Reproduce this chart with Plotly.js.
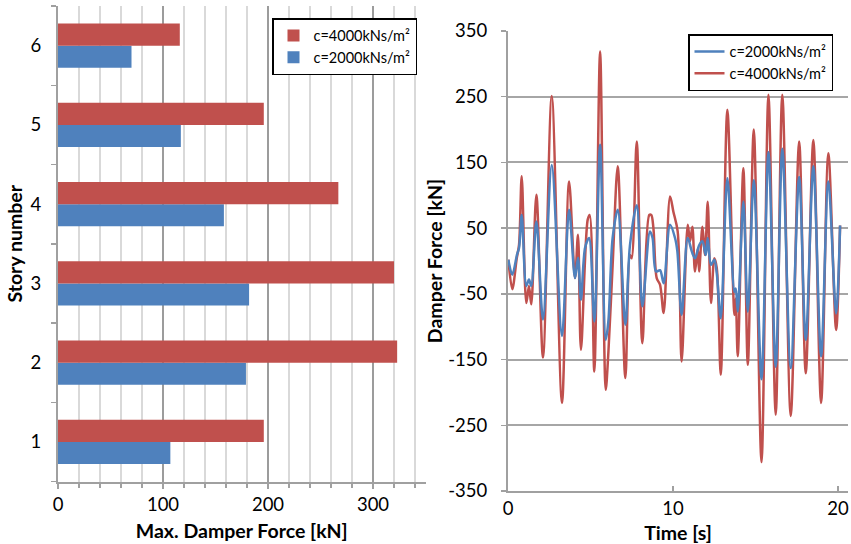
<!DOCTYPE html>
<html>
<head>
<meta charset="utf-8">
<script src="https://cdn.plot.ly/plotly-3.0.1.min.js"></script>
<style>
html,body{margin:0;padding:0;background:#fff;}
#chart{width:851px;height:544px;}
</style>
</head>
<body>
<div id="chart"></div>
<script>
// ---- Left chart: maximum damper force per story ----
const stories = ['1', '2', '3', '4', '5', '6'];
const maxForce2000 = [107, 179, 182, 158, 117, 70];
const maxForce4000 = [196, 323, 320, 267, 196, 116];
// minor gridline values of the force axis (every 20 kN, between the 100 kN majors)
const forceMinorTicks = [20, 40, 60, 80, 120, 140, 160, 180, 220, 240, 260, 280, 320, 340];

// ---- Right chart: damper force time history ----
const time2000 = [0.02, 0.26, 0.55, 0.67, 0.83, 1.11, 1.27, 1.41, 1.72, 2.12, 2.65, 3.27, 3.70, 4.06, 4.24, 4.42, 4.67, 4.91,
  5.23, 5.58, 5.92, 6.08, 6.34, 6.65, 7.11, 7.39, 7.80, 8.14, 8.60, 8.76, 8.97, 9.21, 9.43, 9.82, 10.12, 10.26,
  10.52, 10.89, 11.13, 11.33, 11.58, 11.78, 11.98, 12.10, 12.30, 12.50, 12.65, 12.89, 13.29, 13.72, 13.80, 13.92,
  14.26, 14.53, 14.89, 15.36, 15.78, 16.22, 16.62, 17.13, 17.64, 18.04, 18.50, 18.97, 19.41, 19.88, 20.12];
const force2000 = [2, -21, 10, 20, 70, -38, -28, -38, 60, -89, 146, -114, 78, -26, 5, -59, 20, 35,
  -92, 177, -120, -92, 35, 78, -97, 24, 85, -69, 45, 35, -16, -14, -34, 55, 35, 15,
  -82, 35, 15, 4, 24, 30, 9, 35, -6, 2, -19, -87, 126, -47, -42, -77,
  90, -77, 123, -180, 166, -161, 171, -163, 128, -120, 144, -145, 121, -80, 54];

const time4000 = [0.02, 0.26, 0.53, 0.67, 0.83, 1.11, 1.27, 1.41, 1.72, 2.12, 2.65, 3.27, 3.70, 4.06, 4.24, 4.42, 4.83, 4.95,
  5.23, 5.58, 5.92, 6.08, 6.34, 6.65, 7.11, 7.39, 7.49, 7.80, 8.14, 8.56, 8.68, 8.81, 9.01, 9.21, 9.43, 9.82, 10.02,
  10.28, 10.52, 10.89, 11.03, 11.17, 11.33, 11.50, 11.58, 11.78, 11.94, 12.10, 12.30, 12.50, 12.65, 12.89, 13.29,
  13.72, 13.80, 13.92, 14.26, 14.53, 14.89, 15.36, 15.78, 16.22, 16.62, 17.13, 17.64, 18.04, 18.50, 18.97, 19.41, 19.88, 20.12];
const force4000 = [2, -43, 4, 25, 129, -64, -38, -66, 101, -147, 251, -216, 121, -26, 40, -135, 63, 70,
  -168, 319, -196, -140, -6, 144, -178, 9, 4, 182, -125, 70, 70, 50, -26, -36, -79, 98, 75,
  45, -153, 55, 30, 52, -16, 19, -16, 52, 9, 90, -64, 4, -11, -173, 230,
  -82, -57, -145, 141, -158, 200, -306, 253, -234, 253, -236, 182, -171, 184, -216, 164, -105, 54];

// tick labels of the time-history force axis (plain hyphen minus, as in the original)
const forceTickVals = [-350, -250, -150, -50, 50, 150, 250, 350];
const forceTickText = ['-350', '-250', '-150', '-50', '50', '150', '250', '350'];

const seriesNames = ['c=2000kNs/m²', 'c=4000kNs/m²'];
const BLUE = '#4F81BD', RED = '#C0504D';
const FONT = 'Lato, Carlito, Calibri, sans-serif';

const traces = [
  {type: 'bar', orientation: 'h', y: stories, x: maxForce2000, name: seriesNames[0],
   marker: {color: BLUE}, xaxis: 'x', yaxis: 'y', legend: 'legend'},
  {type: 'bar', orientation: 'h', y: stories, x: maxForce4000, name: seriesNames[1],
   marker: {color: RED}, xaxis: 'x', yaxis: 'y', legend: 'legend'},
  {type: 'scatter', mode: 'lines', x: time4000, y: force4000, name: seriesNames[1],
   line: {color: RED, width: 2.5, shape: 'spline', smoothing: 0.9}, xaxis: 'x2', yaxis: 'y2', legend: 'legend2'},
  {type: 'scatter', mode: 'lines', x: time2000, y: force2000, name: seriesNames[0],
   line: {color: BLUE, width: 2.5, shape: 'spline', smoothing: 0.9}, xaxis: 'x2', yaxis: 'y2', legend: 'legend2'}
];

const W = 851, H = 544;
const axisGray = '#A0A0A0';
const TITLE_SIZE = 19.5;
const TICK_SIZE = 18.5;

const layout = {
  width: W, height: H,
  margin: {l: 0, r: 0, t: 0, b: 0},
  paper_bgcolor: '#fff', plot_bgcolor: '#fff',
  font: {family: FONT, size: TICK_SIZE, color: '#000'},
  barmode: 'group', bargap: 0.44, bargroupgap: 0,
  showlegend: true,
  xaxis: {
    domain: [58 / W, 425.5 / W], anchor: 'y',
    range: [0, 350], dtick: 100, tick0: 0,
    showgrid: true, gridcolor: '#9C9C9C', gridwidth: 1.5,
    minor: {tickmode: 'array', tickvals: forceMinorTicks, showgrid: true, gridcolor: '#D9D9D9', gridwidth: 1.5,
            ticks: 'outside', ticklen: 4, tickcolor: axisGray},
    showline: true, linecolor: axisGray, linewidth: 2,
    ticks: 'outside', ticklen: 5, tickcolor: axisGray, tickwidth: 1.5,
    zeroline: false, fixedrange: true,
    tickfont: {size: TICK_SIZE},
    title: {text: '<b>Max. Damper Force [kN]</b>', font: {size: TITLE_SIZE}, standoff: 11}
  },
  yaxis: {
    domain: [1 - 481.5 / H, 1 - 6 / H], anchor: 'x',
    type: 'category', categoryorder: 'array', categoryarray: stories,
    showgrid: false, showline: true, linecolor: axisGray, linewidth: 2,
    ticks: 'outside', ticklen: 5, tickcolor: axisGray, tickwidth: 1.5, tickson: 'boundaries',
    ticklabelstandoff: 11,
    tickfont: {size: TICK_SIZE},
    title: {text: '<b>Story number</b>', font: {size: TITLE_SIZE}, standoff: 3}
  },
  xaxis2: {
    domain: [508 / W, 848 / W], anchor: 'y2',
    range: [0, 20.6], dtick: 10, tick0: 0,
    showgrid: false, showline: true, linecolor: axisGray, linewidth: 2,
    ticks: 'inside', ticklen: 5, tickcolor: axisGray, tickwidth: 1.5,
    zeroline: false, tickfont: {size: TICK_SIZE},
    title: {text: '<b>Time [s]</b>', font: {size: TITLE_SIZE}, standoff: 11}
  },
  yaxis2: {
    domain: [1 - 491 / H, 1 - 31 / H], anchor: 'x2',
    range: [-350, 350], tickmode: 'array', tickvals: forceTickVals, ticktext: forceTickText,
    showgrid: true, gridcolor: '#A6A6A6', gridwidth: 2,
    showline: true, linecolor: axisGray, linewidth: 2,
    ticks: 'outside', ticklen: 5, tickcolor: axisGray, tickwidth: 1.5,
    ticklabelstandoff: 10,
    zeroline: false, tickfont: {size: TICK_SIZE},
    title: {text: '<b>Damper Force [kN]</b>', font: {size: TITLE_SIZE}, standoff: 0}
  },
  legend: {
    x: 272 / W, y: 1 - 18 / H, xanchor: 'left', yanchor: 'top',
    traceorder: 'reversed', bgcolor: '#fff', bordercolor: '#000', borderwidth: 1.5,
    font: {size: 14.5, family: FONT}, tracegroupgap: 0
  },
  legend2: {
    x: 688 / W, y: 1 - 34 / H, xanchor: 'left', yanchor: 'top',
    traceorder: 'reversed', bgcolor: '#fff', bordercolor: '#000', borderwidth: 1.5,
    font: {size: 14.5, family: FONT}, tracegroupgap: 0
  }
};

Plotly.newPlot('chart', traces, layout, {staticPlot: true, displayModeBar: false});
</script>
</body>
</html>
